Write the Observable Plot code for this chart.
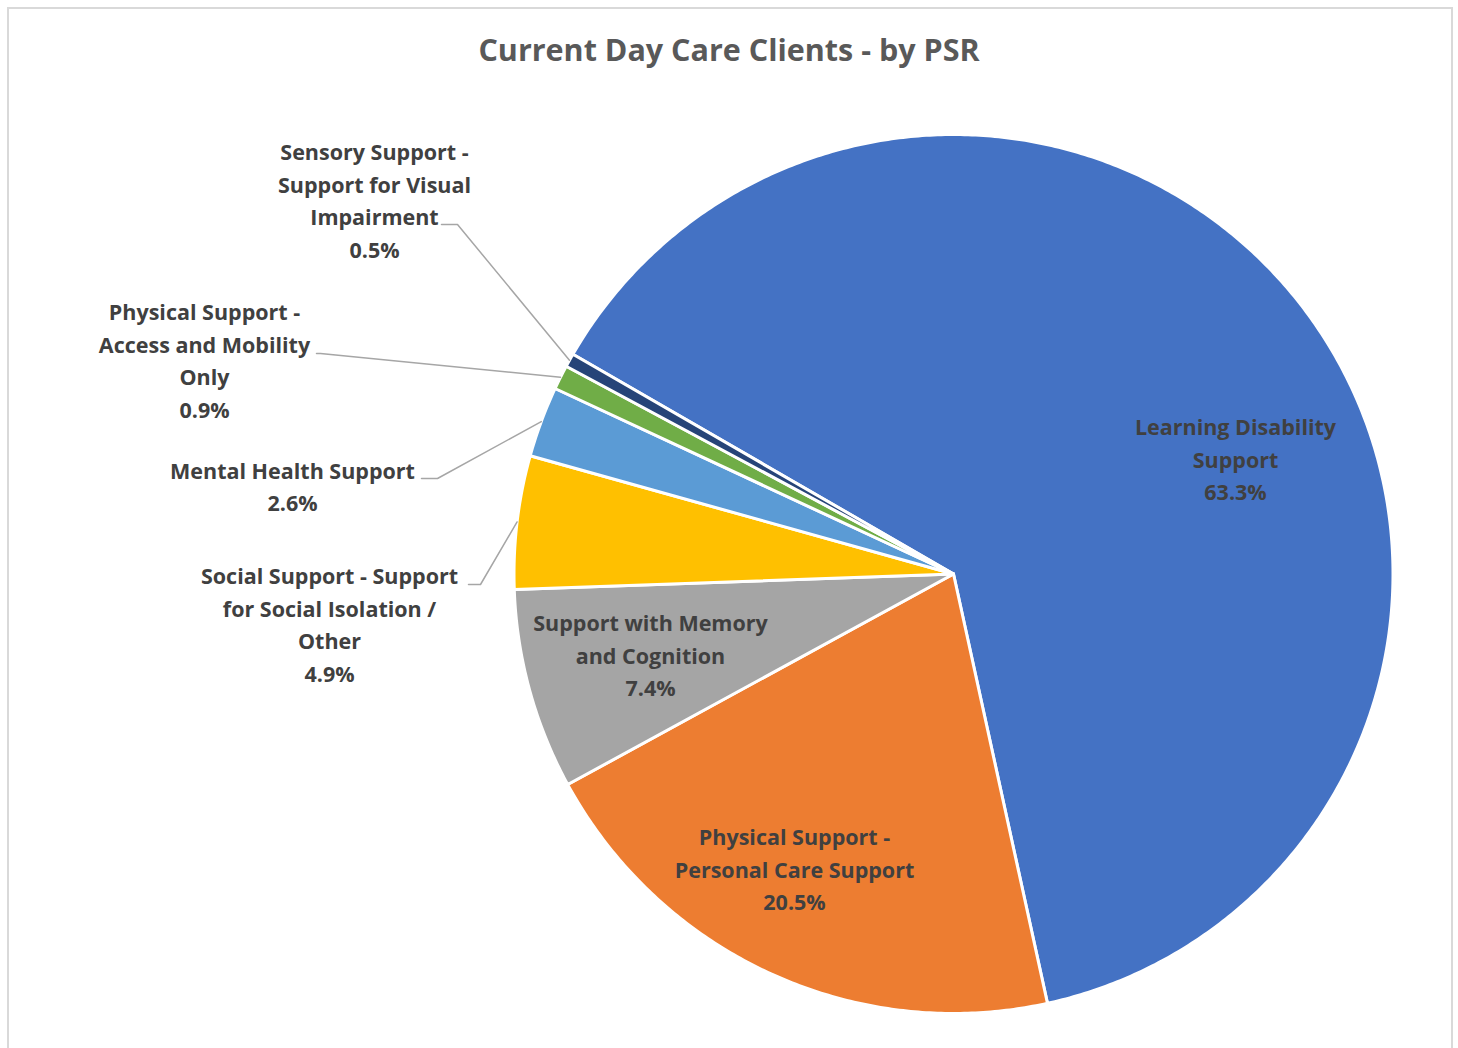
<!DOCTYPE html>
<html>
<head>
<meta charset="utf-8">
<script src="https://cdn.jsdelivr.net/npm/d3@7"></script>
<script src="https://cdn.jsdelivr.net/npm/@observablehq/plot@0.6"></script>
<style>
  html, body { margin: 0; padding: 0; background: #fff; }
  #page { position: relative; width: 1458px; height: 1048px; overflow: hidden; background: #fff; }
  #frame { position: absolute; left: 7px; top: 7px; width: 1446px; height: 1060px; border: 2px solid #d9d9d9; box-sizing: border-box; }
  #title { position: absolute; left: 0; top: 28px; width: 1458px; text-align: center; font-family: "Open Sans", Lato, sans-serif; font-weight: 700; font-size: 30.5px; color: #595959; }
  #chart { position: absolute; left: 0; top: 80px; }
</style>
</head>
<body>
<div id="page">
  <div id="frame"></div>
  <div id="title">Current Day Care Clients - by PSR</div>
  <div id="chart"></div>
</div>
<script>
// ---- data ----
const categories = [
  "Learning Disability Support",
  "Physical Support - Personal Care Support",
  "Support with Memory and Cognition",
  "Social Support - Support for Social Isolation / Other",
  "Mental Health Support",
  "Physical Support - Access and Mobility Only",
  "Sensory Support - Support for Visual Impairment"
];
const values = [63.3, 20.5, 7.4, 4.9, 2.6, 0.9, 0.5];
const colors = ["#4472C4", "#ED7D31", "#A5A5A5", "#FFC000", "#5B9BD5", "#70AD47", "#264478"];
const labelLines = [
  "Learning Disability\nSupport",
  "Physical Support -\nPersonal Care Support",
  "Support with Memory\nand Cognition",
  "Social Support - Support\nfor Social Isolation /\nOther",
  "Mental Health Support",
  "Physical Support -\nAccess and Mobility\nOnly",
  "Sensory Support -\nSupport for Visual\nImpairment"
];

// ---- layout (page pixel space) ----
const cx = 953, cy = 573.5, R = 439.5, startDeg = 300;
const labelPos = [
  [1235, 457], [794, 867], [650, 653], [329, 622], [292, 484], [204, 358], [374, 198]
];
const leaderStart = [
  null, null, null,
  [[468, 584], [480, 584]],
  [[421, 478], [437, 478]],
  [[316, 353], [320, 353]],
  [[441, 224], [457, 224]]
];

const total = d3.sum(values);
const pt = (deg, rr) => [cx + rr * Math.sin(deg * Math.PI / 180), cy - rr * Math.cos(deg * Math.PI / 180)];

let acc = 0;
const slices = values.map((v, i) => {
  const a0 = startDeg + acc / total * 360;
  acc += v;
  const a1 = startDeg + acc / total * 360;
  return {cat: categories[i], a0, a1, mid: (a0 + a1) / 2};
});

const polyPoints = [];
slices.forEach(s => {
  polyPoints.push({cat: s.cat, x: cx, y: cy});
  const n = Math.max(2, Math.ceil((s.a1 - s.a0) / 0.5));
  for (let k = 0; k <= n; k++) {
    const [x, y] = pt(s.a0 + (s.a1 - s.a0) * k / n, R);
    polyPoints.push({cat: s.cat, x, y});
  }
  polyPoints.push({cat: s.cat, x: cx, y: cy});
});

const labels = categories.map((c, i) => ({
  cat: c,
  x: labelPos[i][0],
  y: labelPos[i][1],
  text: labelLines[i] + "\n" + values[i].toFixed(1) + "%"
}));

const leaderPoints = [];
slices.forEach((s, i) => {
  if (!leaderStart[i]) return;
  leaderStart[i].forEach(([x, y]) => leaderPoints.push({cat: s.cat, x, y}));
  const [ex, ey] = pt(s.mid, R);
  leaderPoints.push({cat: s.cat, x: ex, y: ey});
});

const chart = Plot.plot({
  width: 1458,
  height: 968,
  margin: 0,
  x: {domain: [0, 1458], range: [0, 1458], axis: null},
  y: {domain: [80, 1048], range: [0, 968], axis: null},
  color: {domain: categories, range: colors},
  style: {fontFamily: "'Open Sans', Lato, sans-serif", background: "transparent"},
  marks: [
    Plot.line(polyPoints, {x: "x", y: "y", z: "cat", fill: "cat", stroke: "white", strokeWidth: 3, strokeLinejoin: "round", curve: "linear"}),
    Plot.line(leaderPoints, {x: "x", y: "y", z: "cat", stroke: "#a6a6a6", strokeWidth: 1.5, curve: "linear"}),
    Plot.text(labels, {x: "x", y: "y", text: "text", fill: "#404040", fontSize: 21.5, fontWeight: 700, lineHeight: 1.51, lineAnchor: "middle", textAnchor: "middle"})
  ]
});
document.getElementById("chart").appendChild(chart);
</script>
</body>
</html>
